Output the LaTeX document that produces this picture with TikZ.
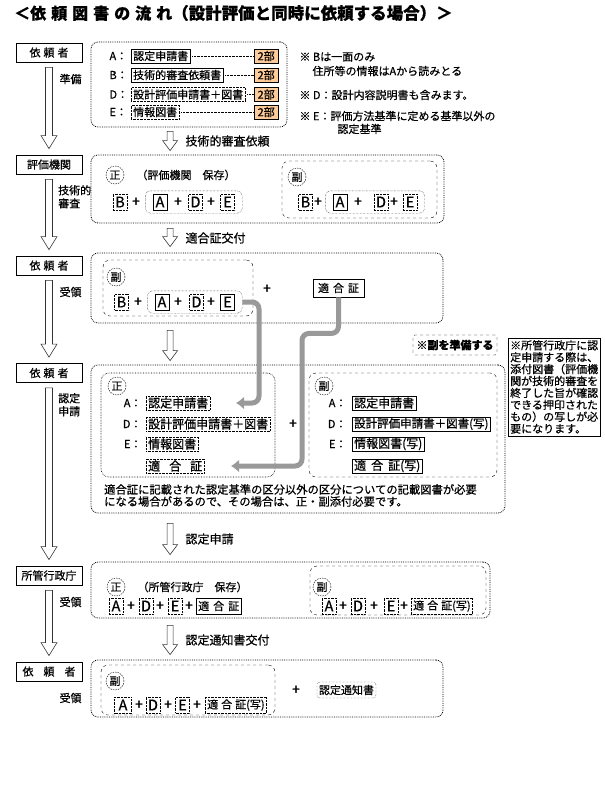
\documentclass[tikz,border=0pt]{standalone}
\usepackage{fontspec}
\setmainfont{Noto Sans CJK JP}[FakeBold=0.6]
\usetikzlibrary{calc,fit,arrows.meta}
\definecolor{peach}{RGB}{255,204,153}
\def\hollowarrow[#1](#2)(#3)(#4:#5:#6){\draw[#1] let \p1=(#2), \p2=(#3) in (\x1-#4,\y1) -- (\x1+#4,\y1) -- (\x1+#4,\y2+#6) -- (\x1+#5,\y2+#6) -- (\x1,\y2) -- (\x1-#5,\y2+#6) -- (\x1-#4,\y2+#6) -- cycle;}
\tikzset{
  who/.style={draw, line width=0.8pt, minimum width=66pt, minimum height=19pt, inner sep=0pt},
  panel/.style={draw, densely dotted, line width=0.8pt, rounded corners=7pt, inner sep=0pt},
  seibox/.style={draw, densely dotted, line width=0.6pt, rounded corners=8pt, inner sep=0pt},
  fukubox/.style={draw, dashed, rounded corners=7pt, inner sep=0pt},
  doc/.style={draw, densely dotted, inner xsep=2pt, inner ysep=1pt, minimum height=14pt},
  soliddoc/.style={doc, solid},
  letter/.style={draw, densely dotted, minimum width=14pt, minimum height=16pt, inner sep=0pt, font=\fontsize{14.5}{14}\selectfont},
  grp/.style={draw, densely dotted, rounded corners=5pt, inner xsep=7.5pt, inner ysep=3pt},
  ring/.style={draw, dash pattern=on 1.5pt off 1pt, circle, minimum size=18pt, inner sep=0pt},
  bubu/.style={draw, fill=peach, minimum width=24pt, minimum height=14pt, inner sep=0pt},
  flow/.style={draw=black!80, fill=white, line width=0.6pt},
  handover/.style={draw=black!40, line width=5pt, rounded corners=7pt, -{Latex[length=8pt,width=13pt]}},
  plus/.style={font=\fontsize{14}{14}\selectfont, inner sep=0pt}
}

\begin{document}
\begin{tikzpicture}[x=1pt, y=-1pt, font=\fontsize{11}{13}\selectfont]
		%%%%% START %%%%%
		\fill[white] (0,0) rectangle (605,788);
		
		\node[anchor=west, inner sep=0pt] (title) at (14,13) {\bfseries\fontsize{16}{18}\selectfont ＜依\hspace{5pt}頼\hspace{5pt}図\hspace{5pt}書\hspace{5pt}の\hspace{5pt}流\hspace{5pt}れ\fontsize{16.5}{18}\selectfont（設計評価と同時に依頼する場合）＞};
		
		% left column
		\node[who] (who1) at (49,52.5) {依\hspace{3pt}頼\hspace{3pt}者};
		\node[who] (hyoka) at (49,164.5) {評価機関};
		\node[who] (who2) at (49,265.5) {依\hspace{3pt}頼\hspace{3pt}者};
		\node[who] (who3) at (49,373) {依\hspace{3pt}頼\hspace{3pt}者};
		\node[who] (gyosei) at (49,575.5) {所管行政庁};
		\node[who] (who4) at (49,671.5) {依\hspace{10pt}頼\hspace{10pt}者};
		
		\foreach \a/\b/\k in {who1/hyoka/1, hyoka/who2/2, who2/who3/3, who3/gyosei/4, gyosei/who4/5} {
			\coordinate (ls\k) at ($(\a.south)+(0,5)$);
			\coordinate (le\k) at ($(\b.north)+(0,-6)$);
			\hollowarrow[flow](ls\k)(le\k)(3.5pt:8pt:13pt)
		}
		
		\node[anchor=west] (l1t) at (56,79) {準備};
		\node[anchor=north west, align=left, inner sep=0pt] (l2t) at (58,185) {技術的\\審査};
		\node[anchor=west] (l3t) at (56,292) {受領};
		\node[anchor=north west, align=left, inner sep=0pt] (l4t) at (58,393) {認定\\申請};
		\node[anchor=west] (l5t) at (56,602) {受領};
		\node[anchor=west] (l6t) at (56,698) {受領};
		
		% panels
		\node[panel, minimum width=196pt, minimum height=85pt] (box1) at (189,84.5) {};
		\node[panel, minimum width=353pt, minimum height=68pt] (box2) at (267.5,189) {};
		\node[panel, minimum width=352pt, minimum height=70pt] (box3) at (267,288) {};
		\node[panel, minimum width=414pt, minimum height=148pt] (box4) at (298,439) {};
		\node[panel, minimum width=399pt, minimum height=56pt] (box5) at (290.5,590) {};
		\node[panel, minimum width=352pt, minimum height=57pt] (box6) at (267,688.5) {};
		
		\foreach \a/\b/\k/\g/\h in {box1/box2/1/4/4, box2/box3/2/5/6, box3/box4/3/7/4, box4/box5/4/10/7, box5/box6/5/7/5} {
			\coordinate (cs\k) at ($(\a.south west)+(79.5,\g)$);
			\coordinate (ce\k) at ($(\b.north west)+(79.5,-\h)$);
			\hollowarrow[flow](cs\k)(ce\k)(3pt:7.5pt:10pt)
		}
		
		\node[anchor=west, font=\fontsize{12}{13}\selectfont] (c1t) at (182,141) {技術的審査依頼};
		\node[anchor=west, font=\fontsize{12}{13}\selectfont] (c2t) at (182,238) {適合証交付};
		\node[anchor=west, font=\fontsize{12}{13}\selectfont] (c4t) at (182,539) {認定申請};
		\node[anchor=west, font=\fontsize{12}{13}\selectfont] (c5t) at (182,640) {認定通知書交付};
		
		% box1
		\foreach \lt/\y/\k in {A/56/a, B/75/b, D/94.5/d, E/112/e}
			\node[anchor=west] (lab1\k) at (106,\y) {\lt：};
		\node[soliddoc, anchor=west] (d1a) at (131,56) {認定申請書};
		\node[soliddoc, anchor=west] (d1b) at (131,75) {技術的審査依頼書};
		\node[doc, anchor=west] (d1d) at (131,94.5) {設計評価申請書＋図書};
		\node[doc, anchor=west] (d1e) at (131,112) {情報図書};
		\foreach \y/\k in {56/a, 75/b, 94.5/d, 112/e} {
			\node[bubu, anchor=west] (p1\k) at (254,\y) {2部};
			\draw[densely dotted, shorten <=2pt] (d1\k.east) -- (p1\k.west);
		}
		
		\node[anchor=west] (n1) at (296,57) {※ Bは一面のみ};
		\node[anchor=west] (n2) at (309,71) {住所等の情報はAから読みとる};
		\node[anchor=west] (n3) at (296,95) {※ D：設計内容説明書も含みます。};
		\node[anchor=west] (n4) at (296,116) {※ E：評価方法基準に定める基準以外の};
		\node[anchor=west] (n5) at (334,129) {認定基準};
		
		% box2
		\node[ring] (sei2) at (115,175) {正};
		\node[anchor=west] (sei2t) at (133,175) {（評価機関　保存）};
		\node[letter] (b2) at (120,202) {B};
		\node[plus] (pl2a) at (136,202) {+};
		\node[letter, solid] (a2) at (160,202) {A};
		\node[plus] (pl2b) at (178,202) {+};
		\node[letter] (d2) at (195.5,202) {D};
		\node[plus] (pl2c) at (211,202) {+};
		\node[letter] (e2) at (227.5,202) {E};
		\node[grp, fit=(a2)(e2)] (g2) {};
		
		\node[fukubox, minimum width=155pt, minimum height=57pt] (fuku2) at (359.5,189.5) {};
		\node[ring] (fk2) at (297,177) {副};
		\node[letter] (b2f) at (305.5,202) {B};
		\node[plus] (pl2d) at (318,202) {+};
		\node[letter, solid] (a2f) at (340,202) {A};
		\node[plus] (pl2e) at (358,202) {+};
		\node[letter] (d2f) at (381,202) {D};
		\node[plus] (pl2f) at (394,202) {+};
		\node[letter] (e2f) at (410,202) {E};
		\node[grp, fit=(a2f)(e2f)] (g2f) {};
		
		% box3
		\node[fukubox, minimum width=150pt, minimum height=56pt] (fuku3) at (178,288) {};
		\node[ring] (fk3) at (116,277) {副};
		\node[letter] (b3) at (121.5,302) {B};
		\node[plus] (pl3a) at (138,302) {+};
		\node[letter, solid] (a3) at (162,302) {A};
		\node[plus] (pl3b) at (178,302) {+};
		\node[letter] (d3) at (196.5,302) {D};
		\node[plus] (pl3c) at (211,302) {+};
		\node[letter, solid] (e3) at (227.5,302) {E};
		\node[grp, fit=(a3)(e3)] (g3) {};
		\node[plus] (pl3d) at (267,289) {+};
		\node[draw, line width=0.8pt, minimum width=51pt, minimum height=18pt, inner sep=0pt] (cert3) at (338.5,288) {適\hspace{4pt}合\hspace{4pt}証};
		
		% box4
		\node[seibox, minimum width=174pt, minimum height=104pt] (sei4) at (188,425) {};
		\node[ring] (sei4r) at (117,386) {正};
		\foreach \lt/\y/\k in {A/403/a, D/424/d, E/444/e}
			\node[anchor=east] (l4\k) at (145,\y) {\lt：};
		\node[doc, anchor=west, font=\fontsize{12}{13}\selectfont] (d4a) at (146,403) {認定申請書};
		\node[doc, anchor=west, font=\fontsize{12}{13}\selectfont] (d4d) at (146,424) {設計評価申請書＋図書};
		\node[doc, anchor=west, font=\fontsize{12}{13}\selectfont] (d4e) at (146,444) {情報図書};
		\node[doc, anchor=west, font=\fontsize{12}{13}\selectfont] (d4c) at (146,466) {適\hspace{9pt}合\hspace{9pt}証};
		\node[plus] (pl4) at (293,424) {+};
		
		\node[fukubox, minimum width=188pt, minimum height=104pt] (fuku4) at (403,425) {};
		\node[ring] (fk4) at (324,386) {副};
		\foreach \lt/\y/\k in {A/403/a, D/424/d, E/444/e}
			\node[anchor=east] (l4f\k) at (350,\y) {\lt：};
		\node[soliddoc, anchor=west, font=\fontsize{12}{13}\selectfont] (d4af) at (352,403) {認定申請書};
		\node[soliddoc, anchor=west, font=\fontsize{11.5}{13}\selectfont] (d4df) at (352,424) {設計評価申請書＋図書(写)};
		\node[soliddoc, anchor=west, font=\fontsize{12}{13}\selectfont] (d4ef) at (352,444) {情報図書(写)};
		\node[soliddoc, anchor=west, font=\fontsize{12}{13}\selectfont] (d4cf) at (352,466) {適\hspace{5pt}合\hspace{5pt}証(写)};
		
		\node[anchor=north west, align=left, inner sep=0pt, font=\fontsize{11.3}{12}\selectfont] (n4t) at (104,484) {適合証に記載された認定基準の区分以外の区分についての記載図書が必要\\になる場合があるので、その場合は、正・副添付必要です。};
		
		\coordinate (bendA) at (259,403);
		\coordinate (tipA) at (236,403);
		\draw[handover] (g3.east) -| (bendA) -- (tipA);
		\coordinate (bendC) at (302,466);
		\coordinate (tipC) at (231,466);
		\draw[handover] (cert3.south) -- ++(0,36) -| (bendC) -- (tipC);
		
		\node[draw, dashed, rounded corners=2pt, minimum width=84pt, minimum height=20pt] (prep) at (455,345) {\bfseries ※副を準備する};
		\node[draw, anchor=north west, align=left, inner xsep=2pt, inner ysep=2pt, font=\fontsize{11}{11.9}\selectfont] (memo) at (508,338) {※所管行政庁に認\\定申請する際は、\\添付図書（評価機\\関が技術的審査を\\終了した旨が確認\\できる押印された\\もの）の写しが必\\要になります。};
		
		% box5
		\node[ring] (sei5) at (116,587) {正};
		\node[anchor=west] (sei5t) at (134,587) {（所管行政庁　保存）};
		\node[letter] (a5) at (116,606) {A};
		\node[plus] (pl5a) at (131,606) {+};
		\node[letter] (d5) at (146,606) {D};
		\node[plus] (pl5b) at (160,606) {+};
		\node[letter] (e5) at (175,606) {E};
		\node[plus] (pl5c) at (189,606) {+};
		\node[soliddoc, anchor=west, minimum height=16pt] (cert5) at (196,606) {適\hspace{4pt}合\hspace{4pt}証};
		
		\node[fukubox, minimum width=176pt, minimum height=49pt] (fuku5) at (398,590.5) {};
		\node[ring] (fk5) at (322,587) {副};
		\node[letter] (a5f) at (329,606) {A};
		\node[plus] (pl5d) at (343,606) {+};
		\node[letter] (d5f) at (358,606) {D};
		\node[plus] (pl5e) at (374,606) {+};
		\node[letter] (e5f) at (391,606) {E};
		\node[plus] (pl5f) at (404,606) {+};
		\node[doc, anchor=west, minimum height=16pt] (cert5f) at (411,606) {適\hspace{3pt}合\hspace{3pt}証(写)};
		
		% box6
		\node[fukubox, minimum width=174pt, minimum height=50pt] (fuku6) at (188,690) {};
		\node[ring] (fk6) at (115,681) {副};
		\node[letter, minimum width=17pt] (a6) at (123,705) {A};
		\node[plus] (pl6a) at (139,705) {+};
		\node[letter] (d6) at (153,705) {D};
		\node[plus] (pl6b) at (168,705) {+};
		\node[letter] (e6) at (182.5,705) {E};
		\node[plus] (pl6c) at (197,705) {+};
		\node[doc, anchor=west, minimum height=16pt] (cert6) at (205,705) {適\hspace{3pt}合\hspace{3pt}証(写)};
		\node[plus] (pl6d) at (296,690) {+};
		\node[doc, rounded corners=3pt, minimum height=16pt] (tsuchi) at (346.5,690) {認定通知書};
		%%%%% END %%%%%
\end{tikzpicture}
\end{document}
